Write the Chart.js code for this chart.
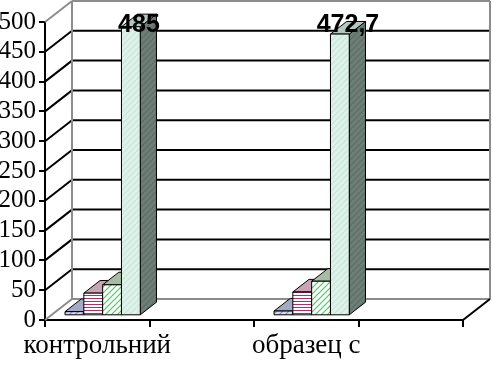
<!DOCTYPE html>
<html>
<head>
<meta charset="utf-8">
<script src="https://cdn.jsdelivr.net/npm/chart.js@4.4.1/dist/chart.umd.min.js"></script>
<style>
  html, body { margin: 0; padding: 0; background: #fff; }
</style>
</head>
<body>
<canvas id="chart" width="492" height="365"></canvas>
<script>
// Categories (2nd and 4th labels are skipped in the original, like Excel does)
var categories = ['контрольний', '', 'образец с', ''];

// Series values
var series1 = [7, null, 8, null];
var series2 = [38, null, 40, null];
var series3 = [52, null, 58, null];
var series4 = [485, null, 472.7, null];

// Value axis
var yMin = 0, yMax = 500, yStep = 50;

// 3D depth of the plot (pixels) and where the bars sit inside it
var DX = 27, DY = 21;
var Z0 = 0.2, ZD = 0.6;

var ctx = document.getElementById('chart').getContext('2d');

// Small repeating fill patterns, like the old Excel fills
function makePattern(bg, line, kind) {
    var c = document.createElement('canvas');
    c.width = 6; c.height = 6;
    var g = c.getContext('2d');
    g.fillStyle = bg;
    g.fillRect(0, 0, 6, 6);
    g.strokeStyle = line;
    g.lineWidth = 1.2;
    g.beginPath();
    if (kind === 'h') {
        g.moveTo(0, 1.5); g.lineTo(6, 1.5);
        g.moveTo(0, 4.5); g.lineTo(6, 4.5);
    } else if (kind === 'd') {
        g.moveTo(0, 6); g.lineTo(6, 0);
        g.moveTo(-1, 1); g.lineTo(1, -1);
        g.moveTo(5, 7); g.lineTo(7, 5);
    }
    g.stroke();
    return ctx.createPattern(c, 'repeat');
}

// front / top / side fills for each series
var faces = [
    {front: makePattern('#d8d8f4', '#8c90c8', 'd'), top: '#a4aac4', side: '#7c82a4'},
    {front: makePattern('#ffffff', '#a8306c', 'h'), top: '#c8a4b4', side: '#94687c'},
    {front: makePattern('#ffffff', '#40d060', 'd'), top: '#a8bca4', side: '#6e8a6c'},
    {front: makePattern('#d4f6f0', '#f0d4c0', 'd'), top: '#b4c8c0', side: makePattern('#6c7e76', '#5c6c66', 'd')}
];

var gray = '#8c8c8c';

function line(c, x1, y1, x2, y2, color, w) {
    c.strokeStyle = color;
    c.lineWidth = w;
    c.beginPath();
    c.moveTo(x1, y1);
    c.lineTo(x2, y2);
    c.stroke();
}

function poly(c, pts, fill) {
    c.beginPath();
    c.moveTo(pts[0][0], pts[0][1]);
    for (var i = 1; i < pts.length; i++) c.lineTo(pts[i][0], pts[i][1]);
    c.closePath();
    c.fillStyle = fill;
    c.fill();
    c.strokeStyle = '#000';
    c.lineWidth = 1;
    c.stroke();
}

// walls, floor and the 3D bars
var box3d = {
    id: 'box3d',
    beforeDatasetsDraw: function(chart) {
        var c = chart.ctx, a = chart.chartArea, ys = chart.scales.y;
        c.save();
        // back wall gridlines and the diagonals to the front axis
        for (var v = yMin; v <= yMax; v += yStep) {
            var py = ys.getPixelForValue(v);
            var edge = (v === yMin || v === yMax);
            line(c, a.left + DX, py - DY, a.right + DX, py - DY, edge ? gray : '#000', 2);
            line(c, a.left, py, a.left + DX, py - DY, edge ? gray : '#000', 2);
        }
        line(c, a.left + DX, a.top - DY, a.left + DX, a.bottom - DY, gray, 2);
        line(c, a.right + DX, a.top - DY, a.right + DX, a.bottom - DY, gray, 2);
        line(c, a.right, a.bottom, a.right + DX, a.bottom - DY, '#000', 2);

        // bars, left to right so the right ones hide the sides of the left ones
        var n = chart.data.labels.length;
        var ddx = ZD * DX, ddy = ZD * DY;
        for (var i = 0; i < n; i++) {
            for (var d = 0; d < chart.data.datasets.length; d++) {
                var el = chart.getDatasetMeta(d).data[i];
                if (!el || chart.data.datasets[d].data[i] == null) continue;
                var x0 = el.x - el.width / 2 + Z0 * DX;
                var x1 = el.x + el.width / 2 + Z0 * DX;
                var yt = el.y - Z0 * DY;
                var yb = el.base - Z0 * DY;
                var f = faces[d];
                poly(c, [[x1, yt], [x1 + ddx, yt - ddy], [x1 + ddx, yb - ddy], [x1, yb]], f.side);
                poly(c, [[x0, yt], [x1, yt], [x1 + ddx, yt - ddy], [x0 + ddx, yt - ddy]], f.top);
                poly(c, [[x0, yt], [x1, yt], [x1, yb], [x0, yb]], f.front);
            }
        }
        c.restore();
    },
    afterDatasetsDraw: function(chart) {
        // value labels on the tall bars, kept inside the plot top like Excel does
        var c = chart.ctx, a = chart.chartArea, d = 3;
        var meta = chart.getDatasetMeta(d);
        c.save();
        c.font = 'bold 25px "Liberation Sans", Arial, sans-serif';
        c.fillStyle = '#000';
        c.textAlign = 'center';
        c.textBaseline = 'middle';
        meta.data.forEach(function(el, i) {
            var v = chart.data.datasets[d].data[i];
            if (v == null) return;
            var cx = el.x + 0.5 * DX;
            var cy = Math.max(el.y - 0.5 * DY - 8, a.top + 3);
            c.fillText(String(v).replace('.', ','), cx, cy);
        });
        c.restore();
    }
};

var serif = '"Liberation Serif", "Times New Roman", serif';

var chart = new Chart(ctx, {
    type: 'bar',
    data: {
        labels: categories,
        datasets: [series1, series2, series3, series4].map(function(s) {
            return {
                data: s,
                backgroundColor: 'rgba(0,0,0,0)',
                borderWidth: 0,
                categoryPercentage: 0.72,
                barPercentage: 1
            };
        })
    },
    options: {
        responsive: false,
        animation: false,
        layout: {padding: {top: 22, right: 29, left: 0, bottom: 0}},
        plugins: {legend: {display: false}, tooltip: {enabled: false}},
        scales: {
            x: {
                grid: {offset: true, drawOnChartArea: false, drawTicks: true, tickLength: 7, color: '#000', lineWidth: 2},
                border: {display: true, color: '#000', width: 2},
                ticks: {color: '#000', font: {family: serif, size: 27}, autoSkip: false, maxRotation: 0, padding: 3},
                afterFit: function(s) { s.height = 45; }
            },
            y: {
                min: yMin,
                max: yMax,
                grid: {drawOnChartArea: false, drawTicks: true, tickLength: 6, color: '#000', lineWidth: 2},
                border: {display: true, color: '#000', width: 2},
                ticks: {stepSize: yStep, autoSkip: false, color: '#000', font: {family: serif, size: 25}, padding: 3},
                afterFit: function(s) { s.width = 45; }
            }
        }
    },
    plugins: [box3d]
});
</script>
</body>
</html>
